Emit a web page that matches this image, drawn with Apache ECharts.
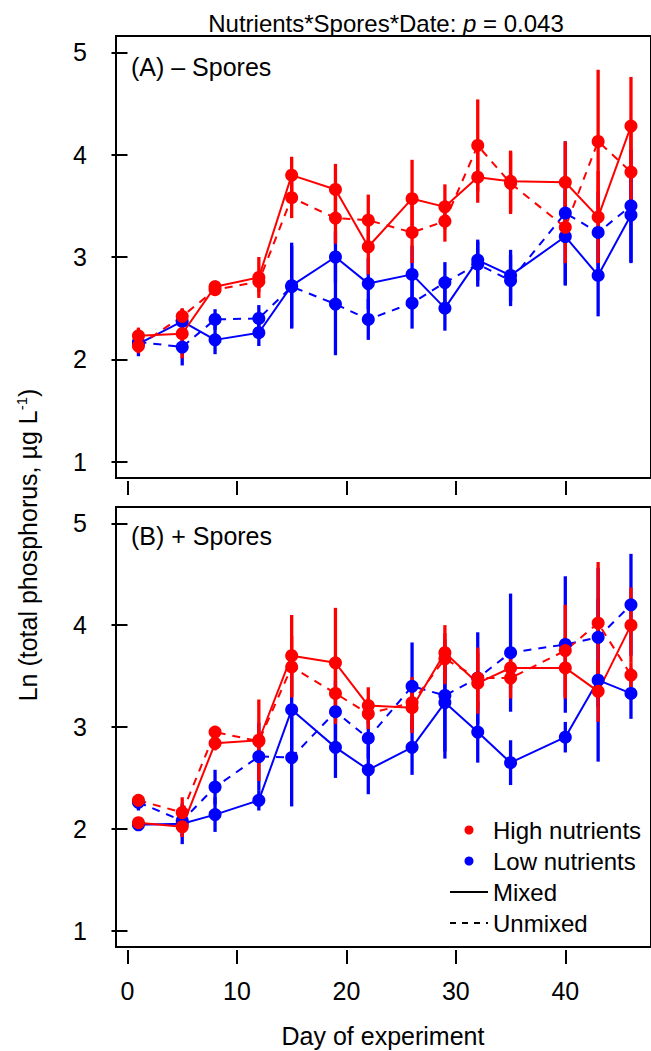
<!DOCTYPE html>
<html>
<head>
<meta charset="utf-8">
<script src="https://cdn.jsdelivr.net/npm/echarts@6/dist/echarts.min.js"></script>
<style>
html,body{margin:0;padding:0;background:#fff;}
#chart{width:651px;height:1051px;}
</style>
</head>
<body>
<div id="chart"></div>
<script>
// ---- data ----
const days = [1, 5, 8, 12, 15, 19, 22, 26, 29, 32, 35, 40, 43, 46];
const xTicks = [0, 10, 20, 30, 40];
const yTicks = [1, 2, 3, 4, 5];

// Panel A: – Spores
const aHighMixed      = [2.23, 2.25, 2.71, 2.80, 3.80, 3.66, 3.10, 3.57, 3.49, 3.78, 3.74, 3.73, 3.39, 4.28];
const aHighMixedErr   = [0.08, 0.24, 0.06, 0.20, 0.18, 0.25, 0.27, 0.38, 0.22, 0.25, 0.30, 0.40, 0.45, 0.48];
const aHighUnmixed    = [2.13, 2.42, 2.68, 2.76, 3.58, 3.38, 3.36, 3.24, 3.35, 4.09, 3.72, 3.29, 4.13, 3.83];
const aHighUnmixedErr = [0.07, 0.08, 0.06, 0.10, 0.20, 0.25, 0.25, 0.30, 0.20, 0.45, 0.30, 0.35, 0.70, 0.40];
const aLowMixed       = [2.15, 2.37, 2.19, 2.26, 2.72, 3.00, 2.74, 2.83, 2.50, 2.97, 2.82, 3.20, 2.82, 3.41];
const aLowMixedErr    = [0.12, 0.12, 0.14, 0.13, 0.42, 0.25, 0.25, 0.28, 0.22, 0.20, 0.25, 0.48, 0.40, 0.47];
const aLowUnmixed     = [2.17, 2.12, 2.39, 2.40, 2.71, 2.54, 2.39, 2.55, 2.75, 2.93, 2.77, 3.43, 3.24, 3.50];
const aLowUnmixedErr  = [0.10, 0.18, 0.10, 0.13, 0.40, 0.50, 0.20, 0.25, 0.20, 0.22, 0.25, 0.70, 0.40, 0.55];

// Panel B: + Spores
const bHighMixed      = [2.06, 2.02, 2.84, 2.87, 3.70, 3.63, 3.21, 3.19, 3.73, 3.43, 3.58, 3.58, 3.35, 4.00];
const bHighMixedErr   = [0.05, 0.10, 0.07, 0.40, 0.40, 0.54, 0.18, 0.25, 0.27, 0.30, 0.20, 0.30, 0.30, 0.37];
const bHighUnmixed    = [2.28, 2.16, 2.95, 2.86, 3.59, 3.33, 3.13, 3.24, 3.67, 3.48, 3.48, 3.75, 4.02, 3.51];
const bHighUnmixedErr = [0.06, 0.15, 0.06, 0.10, 0.30, 0.30, 0.15, 0.25, 0.25, 0.30, 0.20, 0.45, 0.60, 0.12];
const bLowMixed       = [2.04, 2.05, 2.14, 2.28, 3.17, 2.80, 2.58, 2.80, 3.24, 2.95, 2.65, 2.90, 3.46, 3.33];
const bLowMixedErr    = [0.05, 0.20, 0.17, 0.10, 0.40, 0.30, 0.24, 0.27, 0.55, 0.30, 0.22, 0.15, 0.80, 0.25];
const bLowUnmixed     = [2.26, 2.08, 2.41, 2.71, 2.70, 3.15, 2.89, 3.40, 3.31, 3.48, 3.73, 3.81, 3.88, 4.20];
const bLowUnmixedErr  = [0.08, 0.15, 0.17, 0.33, 0.48, 0.30, 0.20, 0.43, 0.55, 0.45, 0.58, 0.67, 0.68, 0.50];

// ---- styling ----
const FONT = 'Liberation Sans, Arial, Helvetica, sans-serif';
const RED = '#FF0000', BLUE = '#0000FF';
const DASH = [8, 7];

const chart = echarts.init(document.getElementById('chart'), null, {renderer: 'svg'});

function errSeries(panel, color, vals, errs) {
  return {
    type: 'custom',
    xAxisIndex: panel, yAxisIndex: panel,
    silent: true,
    encode: {x: 0, y: 1},
    data: days.map((d, i) => [d, vals[i], errs[i]]),
    renderItem: function (params, api) {
      const x = api.value(0), y = api.value(1), e = api.value(2);
      const p1 = api.coord([x, y - e]);
      const p2 = api.coord([x, y + e]);
      return {
        type: 'line',
        shape: {x1: p1[0], y1: p1[1], x2: p2[0], y2: p2[1]},
        style: {stroke: color, lineWidth: 3.3}
      };
    }
  };
}
function lineSeries(panel, name, color, vals, dashed) {
  return {
    type: 'line', name: name,
    xAxisIndex: panel, yAxisIndex: panel,
    data: days.map((d, i) => [d, vals[i]]),
    symbol: 'circle', symbolSize: 13, showSymbol: true,
    itemStyle: {color: color},
    lineStyle: {color: color, width: 2, type: dashed ? DASH : 'solid'},
    silent: true
  };
}

const series = [];
const panels = [
  [aLowMixed, aLowMixedErr, aLowUnmixed, aLowUnmixedErr, aHighMixed, aHighMixedErr, aHighUnmixed, aHighUnmixedErr],
  [bLowMixed, bLowMixedErr, bLowUnmixed, bLowUnmixedErr, bHighMixed, bHighMixedErr, bHighUnmixed, bHighUnmixedErr]
];
panels.forEach((p, k) => {
  series.push(errSeries(k, BLUE, p[0], p[1]));
  series.push(errSeries(k, BLUE, p[2], p[3]));
  series.push(lineSeries(k, 'Low nutrients', BLUE, p[0], false));
  series.push(lineSeries(k, 'Low nutrients', BLUE, p[2], true));
  series.push(errSeries(k, RED, p[4], p[5]));
  series.push(errSeries(k, RED, p[6], p[7]));
  series.push(lineSeries(k, 'High nutrients', RED, p[4], false));
  series.push(lineSeries(k, 'High nutrients', RED, p[6], true));
});
// legend-only series for line types
series.push({type: 'line', name: 'Mixed', xAxisIndex: 0, yAxisIndex: 0, data: [], symbol: 'none',
  itemStyle: {color: 'rgba(0,0,0,0)'}, lineStyle: {color: '#000', width: 2, type: 'solid'}});
series.push({type: 'line', name: 'Unmixed', xAxisIndex: 0, yAxisIndex: 0, data: [], symbol: 'none',
  itemStyle: {color: 'rgba(0,0,0,0)'}, lineStyle: {color: '#000', width: 2, type: [6, 6]}});

function xAxisCfg(i, showLabels) {
  return {
    type: 'value', gridIndex: i, min: -1.05, max: 47.83, offset: 3,
    axisLine: {show: false},
    axisTick: {show: true, length: 14, lineStyle: {color: '#000', width: 2}, customValues: xTicks},
    axisLabel: {show: showLabels, customValues: xTicks, margin: 28, fontSize: 25, color: '#000', fontFamily: FONT},
    splitLine: {show: false}
  };
}
function yAxisCfg(i) {
  return {
    type: 'value', gridIndex: i, min: 0.84, max: 5.16,
    axisLine: {show: false},
    axisTick: {show: true, length: 16, lineStyle: {color: '#000', width: 2}, customValues: yTicks},
    axisLabel: {customValues: yTicks, margin: 29, fontSize: 25, color: '#000', fontFamily: FONT},
    splitLine: {show: false}
  };
}

const option = {
  animation: false,
  backgroundColor: '#fff',
  grid: [
    {left: 116, right: -10, top: 36, height: 442, show: true, borderColor: '#000', borderWidth: 2, backgroundColor: 'transparent'},
    {left: 116, right: -10, top: 507, height: 440, show: true, borderColor: '#000', borderWidth: 2, backgroundColor: 'transparent'}
  ],
  xAxis: [xAxisCfg(0, false), xAxisCfg(1, true)],
  yAxis: [yAxisCfg(0), yAxisCfg(1)],
  legend: {
    orient: 'vertical', left: 444, top: 813,
    itemWidth: 38, itemHeight: 9, itemGap: 7,
    selectedMode: false,
    textStyle: {fontSize: 24, color: '#000', fontFamily: FONT},
    data: [
      {name: 'High nutrients', icon: 'circle'},
      {name: 'Low nutrients', icon: 'circle'},
      {name: 'Mixed', itemStyle: {opacity: 0}},
      {name: 'Unmixed', itemStyle: {opacity: 0}}
    ]
  },
  graphic: [
    {type: 'text', x: 386, y: 23, style: {
      text: '{a|Nutrients*Spores*Date: }{i|p}{a| = 0.043}',
      align: 'center', verticalAlign: 'middle',
      rich: {a: {fontSize: 24, fontFamily: FONT, fill: '#000'}, i: {fontSize: 24, fontFamily: FONT, fontStyle: 'italic', fill: '#000'}}
    }},
    {type: 'text', x: 131, y: 67, style: {text: '(A) \u2013 Spores', fontSize: 25, fontFamily: FONT, fill: '#000', align: 'left', verticalAlign: 'middle'}},
    {type: 'text', x: 131, y: 536, style: {text: '(B) + Spores', fontSize: 25, fontFamily: FONT, fill: '#000', align: 'left', verticalAlign: 'middle'}},
    {type: 'text', x: 383, y: 1036, style: {text: 'Day of experiment', fontSize: 25, fontFamily: FONT, fill: '#000', align: 'center', verticalAlign: 'middle'}},
    {type: 'text', x: 28, y: 545, rotation: Math.PI / 2, style: {
      text: '{n|Ln (total phosphorus, \u00b5g L}{s|-1}{n|)}',
      align: 'center', verticalAlign: 'middle',
      rich: {n: {fontSize: 25, fontFamily: FONT, fill: '#000', lineHeight: 28}, s: {fontSize: 15, fontFamily: FONT, fill: '#000', verticalAlign: 'top', lineHeight: 28}}
    }}
  ],
  series: series
};
chart.setOption(option);
</script>
</body>
</html>
